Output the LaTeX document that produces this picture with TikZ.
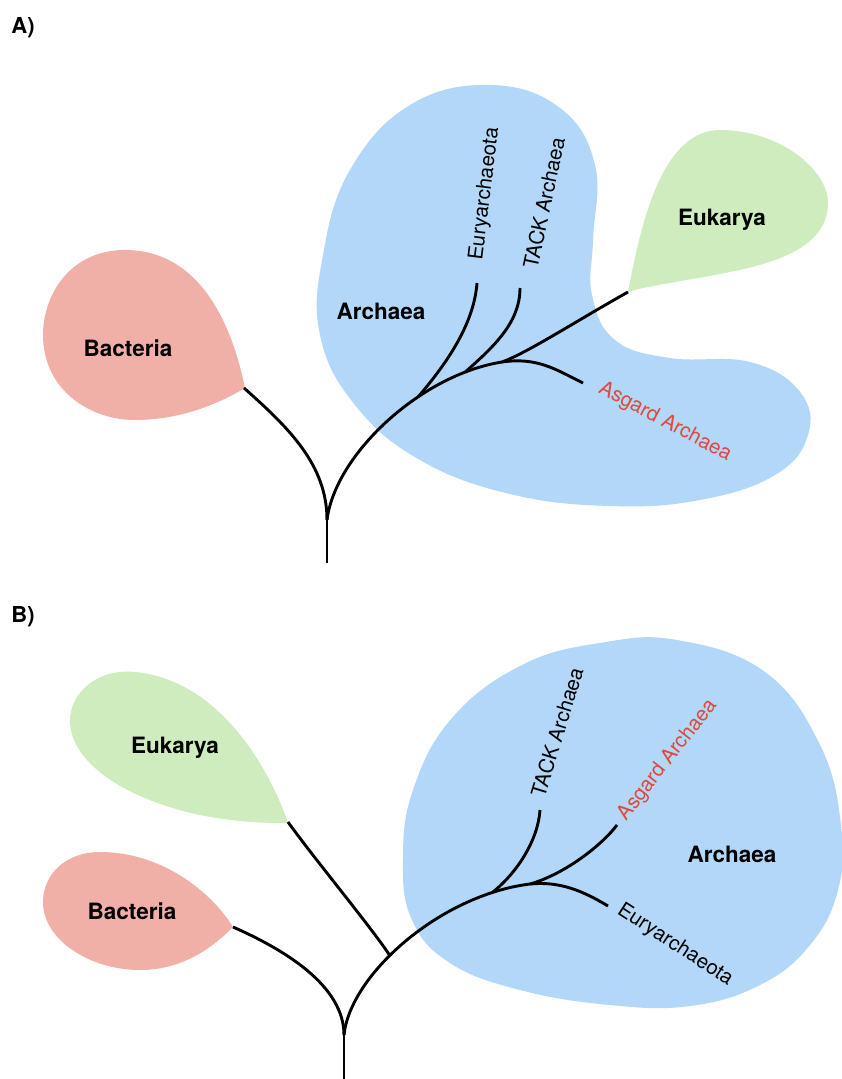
\documentclass[tikz,border=0pt]{standalone}
\usepackage{fontspec}
\setmainfont{TeX Gyre Heros}
\definecolor{arcblue}{RGB}{178,215,248}
\definecolor{bacred}{RGB}{240,175,167}
\definecolor{eukgreen}{RGB}{206,236,190}
\definecolor{asgred}{RGB}{224,72,60}
\begin{document}
\begin{tikzpicture}[x=1pt,y=-1pt,
  branch/.style={line width=2.9pt},
  lbl/.style={font=\fontsize{20.5}{24}\selectfont, inner sep=0pt},
  big/.style={font=\bfseries\fontsize{22.5}{26}\selectfont, inner sep=0pt},
  panel/.style={font=\bfseries\fontsize{22}{26}\selectfont, inner sep=0pt}]
\useasboundingbox (0,0) rectangle (842,1079);
\fill[white] (0,0) rectangle (842,1079);

% ================= Panel A =================
\node[panel] (labA) at (23,28) {A)};
% blobs
\fill[arcblue] plot[smooth cycle, tension=0.7] coordinates {
 (490,85) (560,108) (595,165) (593,240) (592,295) (615,340) (670,358) (750,362)
 (800,392) (808,435) (775,475) (700,500) (610,506) (510,494) (420,460) (355,405)
 (320,335) (323,255) (350,170) (410,105)};
\fill[bacred] (245,388) .. controls (230,315) and (195,250) .. (125,250)
  .. controls (70,250) and (43,295) .. (43,335)
  .. controls (43,390) and (90,420) .. (135,420)
  .. controls (185,420) and (225,400) .. (245,388) -- cycle;
\fill[eukgreen] (628,292) .. controls (640,230) and (660,130) .. (720,130)
  .. controls (780,130) and (828,170) .. (828,203)
  .. controls (828,245) and (780,262) .. (730,272)
  .. controls (680,282) and (650,285) .. (628,292) -- cycle;
% coordinates
\coordinate (rootA) at (327,563);
\coordinate (jA) at (327,520);
\coordinate (bacTipA) at (244,388);
\coordinate (eukJA) at (502,362);
\coordinate (asgTipA) at (583,383);
\coordinate (euryTipA) at (477,283);
\coordinate (tackTipA) at (520,288);
\coordinate (eukTipA) at (628,292);
\path (jA) .. controls (335,455) and (420,375) .. (eukJA)
  coordinate[pos=0.65] (euryJA) coordinate[pos=0.85] (tackJA);
% tree
\draw[branch] (rootA) -- (jA);
\draw[branch] (jA) .. controls +(0,-55) and +(45,40) .. (bacTipA);
\draw[branch] (jA) .. controls (335,455) and (420,375) .. (eukJA)
  .. controls +(35,-5) and +(-28,-14) .. (asgTipA);
\draw[branch] (euryJA) .. controls +(30,-35) and +(-3,40) .. (euryTipA);
\draw[branch] (tackJA) .. controls +(28,-25) and +(0,35) .. (tackTipA);
\draw[branch] (eukJA) .. controls +(25,-9) and +(-50,28) .. (eukTipA);
% labels
\node[big] (bacA) at (128,348) {Bacteria};
\node[big] (arcA) at (381,311) {Archaea};
\node[big] (eukA) at (722,220) {Eukarya};
\node[lbl, rotate=83] (euryA) at (485,194) {Euryarchaeota};
\node[lbl, rotate=78] (tackA) at (544,203) {TACK Archaea};
\node[lbl, rotate=-28, text=asgred] (asgA) at (665,422) {Asgard Archaea};

% ================= Panel B =================
\node[panel] (labB) at (23,617) {B)};
\fill[arcblue] plot[smooth cycle, tension=0.7] coordinates {
 (677,640) (765,672) (820,745) (841,825) (838,890) (810,945) (760,985) (690,1006)
 (610,1005) (520,990) (450,963) (412,920) (403,860) (413,790) (452,718) (522,665)
 (600,643)};
\fill[bacred] (233,927) .. controls (210,890) and (160,852) .. (100,852)
  .. controls (65,852) and (43,875) .. (43,902)
  .. controls (43,940) and (90,970) .. (140,970)
  .. controls (185,970) and (215,945) .. (233,927) -- cycle;
\fill[eukgreen] (288,823) .. controls (270,770) and (220,680) .. (135,672)
  .. controls (95,668) and (70,695) .. (70,720)
  .. controls (70,765) and (130,800) .. (200,815)
  .. controls (240,823) and (270,823) .. (288,823) -- cycle;
\coordinate (rootB) at (344,1079);
\coordinate (jB) at (344,1035);
\coordinate (bacTipB) at (233,927);
\coordinate (eukTipB) at (288,822);
\coordinate (asgJB) at (530,884);
\coordinate (tackTipB) at (540,810);
\coordinate (asgTipB) at (617,825);
\coordinate (euryTipB) at (608,906);
\path (jB) .. controls (350,975) and (440,895) .. (asgJB)
  coordinate[pos=0.42] (eukJB) coordinate[pos=0.86] (tackJB);
\draw[branch] (rootB) -- (jB);
\draw[branch] (jB) .. controls +(0,-50) and +(50,22) .. (bacTipB);
\draw[branch] (jB) .. controls (350,975) and (440,895) .. (asgJB)
  .. controls +(30,-3) and +(-25,-15) .. (euryTipB);
\draw[branch] (eukJB) .. controls +(-20,-30) and +(25,35) .. (eukTipB);
\draw[branch] (tackJB) .. controls +(25,-20) and +(-2,30) .. (tackTipB);
\draw[branch] (asgJB) .. controls +(35,-10) and +(-15,20) .. (asgTipB);
\node[big] (bacB) at (132,911) {Bacteria};
\node[big] (eukB) at (175,748) {Eukarya};
\node[big] (arcB) at (732,854) {Archaea};
\node[lbl, rotate=73] (tackB) at (557,732) {TACK Archaea};
\node[lbl, rotate=52, text=asgred] (asgB) at (668,760) {Asgard Archaea};
\node[lbl, rotate=-33] (euryB) at (675,945) {Euryarchaeota};
\end{tikzpicture}
\end{document}
